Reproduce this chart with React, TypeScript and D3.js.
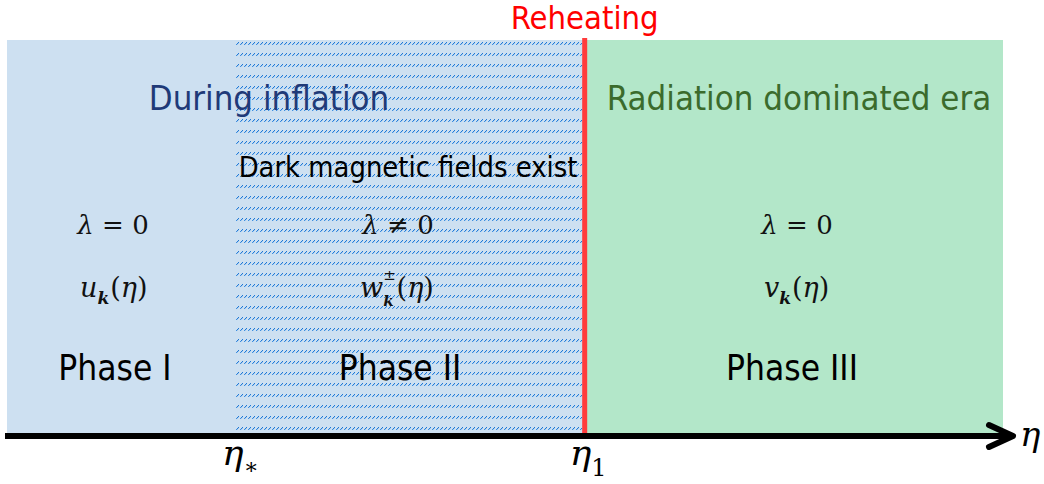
import * as d3 from "d3"

// conformal time, in arbitrary units along the axis
const etaStart = 0
const etaStar = 23
const eta1 = 58
const etaEnd = 100

const phaseNames = ["Phase I", "Phase II", "Phase III"]
const lambdaLabels = ["= 0", "≠ 0", "= 0"]
const modeLetters = ["u", "w", "v"]
const eraNames = ["During inflation", "Radiation dominated era"]

const W = 1044
const H = 484

const SANS = "'DejaVu Sans Condensed', 'DejaVu Sans', sans-serif"
const MATH = "'DejaVu Serif', serif"

const App = () => {
  const x = d3.scaleLinear().domain([etaStart, etaEnd]).range([7, 1003])
  const top = 40
  const bottom = 433
  const axisY = 436

  const phaseBounds = [etaStart, etaStar, eta1, etaEnd]
  const centers = [113, 398, 797]

  // one text element per mode function, sub/superscripts as tspans
  const modeLabel = (i: number) => {
    const cx = centers[i]
    const letter = modeLetters[i]
    if (letter === "w") {
      return (
        <text key={i} x={cx - 38} y={297} fontFamily={MATH} fontSize={27} fill="#111">
          <tspan fontStyle="italic">w</tspan>
          <tspan dy={-17} fontSize={15}>±</tspan>
          <tspan dx={-12.5} dy={26} fontSize={15} fontStyle="italic" fontWeight="bold">k</tspan>
          <tspan dx={3} dy={-9}>(</tspan>
          <tspan fontStyle="italic">η</tspan>
          <tspan>)</tspan>
        </text>
      )
    }
    return (
      <text key={i} x={cx - 33} y={297} fontFamily={MATH} fontSize={27} fill="#111">
        <tspan fontStyle="italic">{letter}</tspan>
        <tspan dy={7} fontSize={17} fontStyle="italic" fontWeight="bold">k</tspan>
        <tspan dx={1} dy={-7}>(</tspan>
        <tspan fontStyle="italic">η</tspan>
        <tspan>)</tspan>
      </text>
    )
  }

  const hx = Math.round(x(etaStar))
  const hatchPx: [number, number, string][] = [
    [0, 4, "#3f8fe0"],
    [1, 3, "#1f78d6"],
    [1, 4, "#a9cdef"],
    [2, 2, "#1f78d6"],
    [2, 3, "#a9cdef"],
  ]

  return (
    <svg width={W} height={H} style={{ position: "absolute", left: 0, top: 0, background: "#fff" }}>
      <defs>
        <pattern id="hatch" width={4} height={11} patternUnits="userSpaceOnUse" x={hx} y={top}>
          {hatchPx.map(([px, py, c], k) => (
            <rect key={k} x={px} y={py} width={1} height={1} fill={c} shapeRendering="crispEdges" />
          ))}
        </pattern>
      </defs>

      {/* inflation background (phase I + II) */}
      <rect x={x(phaseBounds[0])} y={top} width={x(phaseBounds[2]) - x(phaseBounds[0])} height={bottom - top} fill="#cde0f1" />
      {/* dark magnetic field region */}
      <rect x={hx} y={top} width={Math.round(x(phaseBounds[2])) - hx - 3} height={bottom - top} fill="url(#hatch)" />
      {/* radiation era */}
      <rect x={x(phaseBounds[2])} y={top} width={x(phaseBounds[3]) - x(phaseBounds[2])} height={bottom - top} fill="#b3e7c9" />

      {/* reheating line */}
      <line x1={x(eta1)} x2={x(eta1)} y1={top - 2} y2={bottom} stroke="#ff3b3b" strokeWidth={5} />

      <text x={x(eta1)} y={29} textAnchor="middle" fontFamily={SANS} fontSize={32.5} fill="#ff0000">Reheating</text>

      <text x={269} y={110} textAnchor="middle" fontFamily={SANS} fontSize={34.5} fill="#1f3a78">{eraNames[0]}</text>
      <text x={799} y={110} textAnchor="middle" fontFamily={SANS} fontSize={34.5} fill="#3b6b2c">{eraNames[1]}</text>
      <text x={408} y={177} textAnchor="middle" fontFamily={SANS} fontSize={28.8} fill="#000">Dark magnetic fields exist</text>

      {lambdaLabels.map((l, i) => (
        <text key={i} x={centers[i]} y={234} textAnchor="middle" fontFamily={MATH} fontSize={26} fill="#111">
          <tspan fontStyle="italic">λ</tspan> {l}
        </text>
      ))}

      {modeLetters.map((_, i) => modeLabel(i))}

      {phaseNames.map((p, i) => (
        <text key={p} x={centers[i] + (i === 2 ? -5 : 2)} y={380} textAnchor="middle" fontFamily={SANS} fontSize={35} fill="#000">{p}</text>
      ))}

      {/* time axis */}
      <line x1={5} x2={1012} y1={axisY} y2={axisY} stroke="#000" strokeWidth={6} />
      <polyline points={`989,425 1013,${axisY} 989,447`} fill="none" stroke="#000" strokeWidth={6} strokeLinecap="round" strokeLinejoin="round" />

      <text x={1020} y={446} fontFamily={MATH} fontSize={34} fontStyle="italic" fill="#000">η</text>
      <text x={x(etaStar) - 14} y={465} fontFamily={MATH} fontSize={36} fill="#000">
        <tspan fontStyle="italic">η</tspan>
        <tspan dy={9} fontSize={22}>∗</tspan>
      </text>
      <text x={x(eta1) - 15} y={465} fontFamily={MATH} fontSize={36} fill="#000">
        <tspan fontStyle="italic">η</tspan>
        <tspan dy={11} fontSize={24}>1</tspan>
      </text>
    </svg>
  )
}

export default App
